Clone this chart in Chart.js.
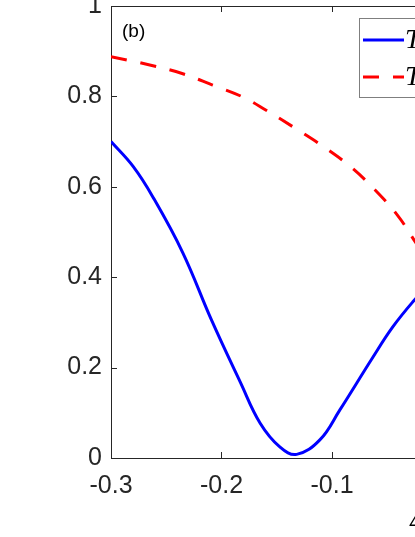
<!DOCTYPE html>
<html>
<head>
<meta charset="utf-8">
<script src="https://cdn.jsdelivr.net/npm/chart.js@4/dist/chart.umd.min.js"></script>
<style>
html,body{margin:0;padding:0;background:#fff;overflow:hidden;}
#wrap{width:800px;height:537px;}
</style>
</head>
<body>
<div id="wrap"><canvas id="c" width="800" height="537"></canvas></div>
<script>
// values
const xBlue=[-0.300,-0.280,-0.262,-0.235,-0.209,-0.183,-0.165,-0.147,-0.132,-0.111,-0.093,-0.063,-0.045,-0.027,-0.010,0.000];
const yBlue=[0.700,0.645,0.577,0.454,0.305,0.168,0.077,0.024,0.008,0.040,0.106,0.223,0.290,0.345,0.390,0.410];
const xRed=[-0.300,-0.264,-0.235,-0.208,-0.181,-0.160,-0.131,-0.106,-0.082,-0.061,-0.041,-0.027,-0.015,0.000];
const yRed=[0.888,0.869,0.850,0.825,0.799,0.770,0.726,0.686,0.642,0.593,0.538,0.487,0.440,0.370];
const seriesNames=['T\u2081','T\u2082'];
const xTicks={min:-0.3,max:0.3,step:0.1};
const yTicks={min:0,max:1,step:0.2};

const pts=(xs,ys)=>xs.map((x,i)=>({x:x,y:ys[i]}));

const axisCol='#262626';

const framePlugin={
id:'frame',
afterDraw(chart){
const ctx=chart.ctx, a=chart.chartArea, sx=chart.scales.x, sy=chart.scales.y;
ctx.save();
ctx.strokeStyle=axisCol;
ctx.lineWidth=1;
ctx.beginPath();
ctx.moveTo(a.left,a.top+0.5);ctx.lineTo(a.right,a.top+0.5);
ctx.moveTo(a.right-0.5,a.top);ctx.lineTo(a.right-0.5,a.bottom);
sx.ticks.forEach(t=>{
const p=Math.round(sx.getPixelForValue(t.value))+0.5;
ctx.moveTo(p,a.bottom);ctx.lineTo(p,a.bottom-6);
ctx.moveTo(p,a.top);ctx.lineTo(p,a.top+6);
});
sy.ticks.forEach(t=>{
const p=Math.round(sy.getPixelForValue(t.value))+0.5;
ctx.moveTo(a.left,p);ctx.lineTo(a.left+6,p);
ctx.moveTo(a.right,p);ctx.lineTo(a.right-6,p);
});
ctx.stroke();

// panel label
ctx.fillStyle='#000';
ctx.font='19px "Liberation Sans", Arial, sans-serif';
ctx.textBaseline='middle';
ctx.fillText('(b)',a.left+11,a.top+26);

// legend box
const lx=359.5, ly=18.5, lw=150, lh=79;
ctx.fillStyle='#fff';
ctx.fillRect(lx,ly,lw,lh);
ctx.strokeStyle='#7f7f7f';
ctx.strokeRect(lx,ly,lw,lh);
chart.data.datasets.forEach((ds,i)=>{
const yy=40+i*37;
ctx.beginPath();
ctx.strokeStyle=ds.borderColor;
ctx.lineWidth=ds.borderWidth;
ctx.setLineDash(ds.borderDash||[]);
ctx.moveTo(363,yy);ctx.lineTo(404,yy);
ctx.stroke();
ctx.setLineDash([]);
ctx.fillStyle='#000';
ctx.font='italic 28px "Liberation Serif", "Times New Roman", serif';
ctx.textBaseline='middle';
ctx.fillText(ds.label,405,yy+1);
});
ctx.restore();
}
};

new Chart(document.getElementById('c'),{
type:'line',
data:{
datasets:[
{label:seriesNames[0],data:pts(xBlue,yBlue),borderColor:'#0000ff',borderWidth:3,pointRadius:0,tension:0.4,fill:false},
{label:seriesNames[1],data:pts(xRed,yRed),borderColor:'#ff0000',borderWidth:3,borderDash:[16,14],pointRadius:0,tension:0.4,fill:false}
]
},
options:{
responsive:false,
animation:false,
layout:{padding:{top:6,right:26,left:0,bottom:0}},
plugins:{legend:{display:false},tooltip:{enabled:false}},
scales:{
x:{
type:'linear',
min:xTicks.min,max:xTicks.max,
afterFit(s){s.height=79;s.paddingLeft=0;s.paddingRight=0;},
grid:{display:false,drawTicks:false},
border:{display:true,color:axisCol,width:1},
ticks:{stepSize:xTicks.step,padding:13,color:axisCol,font:{family:'"Liberation Sans", Arial, sans-serif',size:25},maxRotation:0},
title:{display:true,text:'\u0394(eV)',color:'#000',font:{family:'"Liberation Serif", serif',style:'italic',size:28},padding:{top:0,bottom:2}}
},
y:{
type:'linear',
min:yTicks.min,max:yTicks.max,
afterFit(s){s.width=111;s.paddingTop=0;s.paddingBottom=0;},
grid:{display:false,drawTicks:false},
border:{display:true,color:axisCol,width:1},
ticks:{stepSize:yTicks.step,padding:9,color:axisCol,font:{family:'"Liberation Sans", Arial, sans-serif',size:25},callback:v=>String(Math.round(v*10)/10)}
}
}
},
plugins:[framePlugin]
});
</script>
</body>
</html>
